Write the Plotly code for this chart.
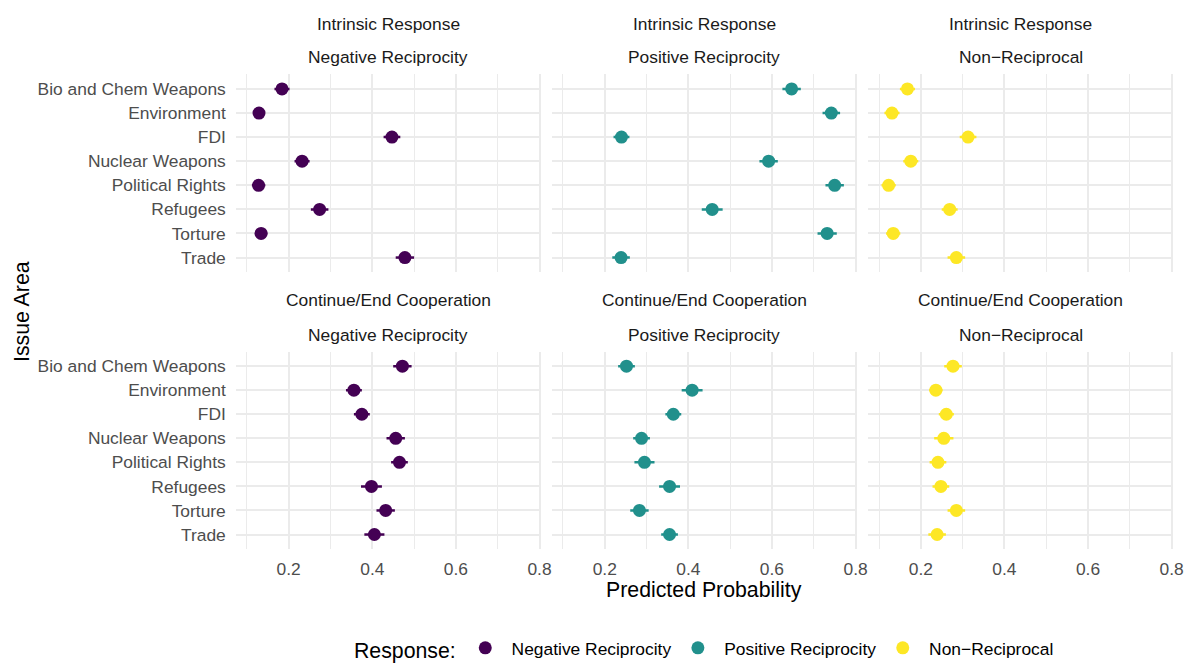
import plotly.graph_objects as go

issues = ["Bio and Chem Weapons", "Environment", "FDI", "Nuclear Weapons",
          "Political Rights", "Refugees", "Torture", "Trade"]

responses = ["Negative Reciprocity", "Positive Reciprocity", "Non\u2212Reciprocal"]
outcomes = ["Intrinsic Response", "Continue/End Cooperation"]
colors = ["#440154", "#21908C", "#FDE725"]

# Intrinsic Response row
neg_intr = [0.184, 0.129, 0.447, 0.232, 0.128, 0.274, 0.134, 0.478]
neg_intr_err = [0.018, 0.012, 0.020, 0.018, 0.016, 0.021, 0.015, 0.022]
pos_intr = [0.647, 0.742, 0.240, 0.592, 0.750, 0.457, 0.732, 0.239]
pos_intr_err = [0.022, 0.021, 0.019, 0.022, 0.022, 0.025, 0.023, 0.021]
non_intr = [0.168, 0.131, 0.313, 0.176, 0.123, 0.269, 0.134, 0.285]
non_intr_err = [0.018, 0.018, 0.020, 0.018, 0.017, 0.019, 0.017, 0.021]

# Continue/End Cooperation row
neg_cont = [0.472, 0.356, 0.375, 0.456, 0.465, 0.398, 0.432, 0.405]
neg_cont_err = [0.022, 0.019, 0.019, 0.022, 0.020, 0.025, 0.022, 0.024]
pos_cont = [0.252, 0.409, 0.364, 0.288, 0.295, 0.355, 0.283, 0.355]
pos_cont_err = [0.020, 0.025, 0.019, 0.020, 0.024, 0.025, 0.022, 0.020]
non_cont = [0.277, 0.236, 0.261, 0.255, 0.241, 0.248, 0.285, 0.239]
non_cont_err = [0.021, 0.016, 0.018, 0.023, 0.020, 0.020, 0.021, 0.021]

x_ticks = [0.2, 0.4, 0.6, 0.8]

panels = [
    [(neg_intr, neg_intr_err), (pos_intr, pos_intr_err), (non_intr, non_intr_err)],
    [(neg_cont, neg_cont_err), (pos_cont, pos_cont_err), (non_cont, non_cont_err)],
]

W, H = 1195, 668
FONT = "Liberation Sans, Arial, sans-serif"
FS = 17.4
FT = 21.3

col_px = [(238, 546), (557, 865), (876, 1184)]
row_px = [(75.4, 275.3), (356.0, 555.6)]


def xd(a, b):
    return [a / W, b / W]


def yd(top, bot):
    return [1 - bot / H, 1 - top / H]


fig = go.Figure()
layout = dict(
    width=W, height=H,
    margin=dict(l=0, r=0, t=0, b=0),
    paper_bgcolor="white", plot_bgcolor="white",
    font=dict(family=FONT, size=FS, color="#4D4D4D"),
    showlegend=True,
)

annotations = []
for r in range(2):
    for c in range(3):
        idx = r * 3 + c + 1
        xa = "x" if idx == 1 else f"x{idx}"
        ya = "y" if idx == 1 else f"y{idx}"
        vals, errs = panels[r][c]
        fig.add_trace(go.Scatter(
            x=vals, y=issues, mode="markers",
            marker=dict(size=13, color=colors[c]),
            error_x=dict(type="data", array=errs, visible=True,
                         color=colors[c], thickness=2.5, width=0),
            name="\u00a0" + responses[c], legendgroup=responses[c],
            showlegend=(r == 0),
            xaxis=xa, yaxis=ya,
        ))
        xkey = "xaxis" if idx == 1 else f"xaxis{idx}"
        ykey = "yaxis" if idx == 1 else f"yaxis{idx}"
        layout[xkey] = dict(
            domain=xd(*col_px[c]), anchor=ya,
            range=[0.0735, 0.8035],
            tickmode="array", tickvals=x_ticks,
            ticktext=[f"{v:.1f}" for v in x_ticks],
            showticklabels=(r == 1),
            tickfont=dict(size=FS, color="#4D4D4D"),
            showgrid=True, gridcolor="#EBEBEB", gridwidth=1.5,
            minor=dict(tickmode="array", tickvals=[0.1, 0.3, 0.5, 0.7],
                       showgrid=True, gridcolor="#EBEBEB", gridwidth=0.8),
            zeroline=False, showline=False, ticks="",
            ticklabelstandoff=8,
        )
        layout[ykey] = dict(
            domain=yd(*row_px[r]), anchor=xa,
            type="category", categoryorder="array", categoryarray=issues,
            range=[7.6, -0.6],
            showticklabels=(c == 0),
            tickfont=dict(size=FS, color="#4D4D4D"),
            showgrid=True, gridcolor="#EBEBEB", gridwidth=1.5,
            zeroline=False, showline=False, ticks="",
            ticklabelstandoff=9,
        )
        # strip labels
        cx = (col_px[c][0] + col_px[c][1]) / 2 / W
        strip_y = [(24, 58), (304, 339)][r]
        annotations.append(dict(text=outcomes[r], x=cx, y=1 - strip_y[0] / H,
                                xref="paper", yref="paper", showarrow=False,
                                xanchor="center", yanchor="middle",
                                font=dict(size=FS, color="#1A1A1A", family=FONT)))
        annotations.append(dict(text=responses[c], x=cx, y=1 - strip_y[1] / H,
                                xref="paper", yref="paper", showarrow=False,
                                xanchor="center", yanchor="middle",
                                font=dict(size=FS, color="#1A1A1A", family=FONT)))

annotations.append(dict(text="Predicted Probability", x=711 / W, y=1 - 597 / H,
                        xref="paper", yref="paper", showarrow=False,
                        xanchor="center", yanchor="middle",
                        font=dict(size=FT, color="black", family=FONT)))
annotations.append(dict(text="Issue Area", x=22 / W, y=1 - 315 / H,
                        xref="paper", yref="paper", showarrow=False,
                        textangle=-90, xanchor="center", yanchor="middle",
                        font=dict(size=FT, color="black", family=FONT)))

layout["annotations"] = annotations
layout["legend"] = dict(
    orientation="h", x=712 / W, xanchor="center", y=1 - 657 / H, yanchor="middle",
    title=dict(text="Response:", font=dict(size=FT, color="black", family=FONT)),
    font=dict(size=FS, color="black", family=FONT),
    itemwidth=33,
    bgcolor="rgba(0,0,0,0)",
)

fig.update_layout(**layout)

post = """
document.documentElement.style.margin = '0';
document.body.style.margin = '0';
document.documentElement.style.overflow = 'hidden';
document.body.style.overflow = 'hidden';
"""

fig.write_html("out.html", config={"displayModeBar": False}, post_script=post)
